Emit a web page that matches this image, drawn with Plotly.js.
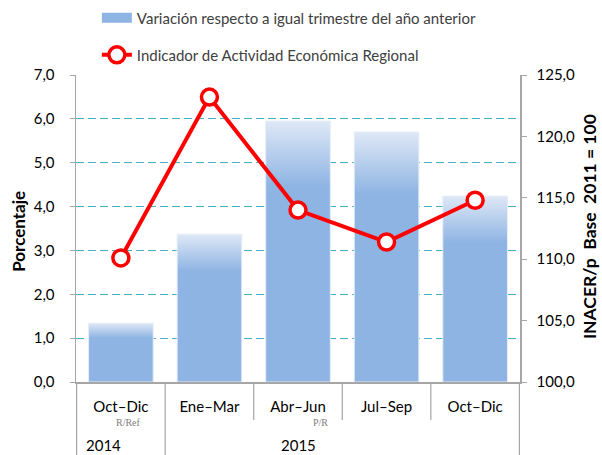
<!DOCTYPE html>
<html><head><meta charset="utf-8">
<script src="https://cdn.plot.ly/plotly-3.0.1.min.js"></script>
<style>body{margin:0;background:#fff}#chart{width:602px;height:455px}</style>
</head><body><div id="chart"></div>
<script>
const years = ["2014", "2015", "2015", "2015", "2015"];
const yearLabels = ["2014", "2015"];
const yearNotes = ["R/Ref", "P/R"];
const quarters = ["Oct–Dic", "Ene–Mar", "Abr–Jun", "Jul–Sep", "Oct–Dic"];
const variacion = [1.34, 3.37, 5.95, 5.70, 4.24];
const inacer = [110.1, 123.2, 114.0, 111.4, 114.8];
const barName = "Variación respecto a igual trimestre del año anterior";
const lineName = "Indicador de Actividad Económica Regional";
const leftTitle = "Porcentaje";
const rightTitle = "INACER/p\u00A0 Base\u00A0 2011 = 100";

// unique category keys built from year + quarter, shown as quarter only
const keys = quarters.map(function(q, i){ return q + " " + years[i]; });

const font = "Lato, 'Noto Sans', sans-serif";
const axisGray = "#A6A6A6";

const traces = [
  {type: "bar", x: keys, y: variacion, name: barName,
   marker: {color: "#8EB4E3", line: {color: "#E6EDF7", width: 1}},
   hoverinfo: "skip", legend: "legend"},
  {type: "scatter", mode: "lines+markers", x: keys, y: inacer, name: lineName,
   yaxis: "y2", line: {color: "#FF0000", width: 4},
   marker: {size: 16, color: "#FFFFFF", line: {color: "#FF0000", width: 3.5}},
   hoverinfo: "skip", legend: "legend2"}
];

// axis decoration: boundary lines below the x axis (category boundaries)
const n = keys.length;
const shapes = [];
for (let b = 0; b <= n; b++) {
  const isYearEdge = (b === 0 || b === n || years[b] !== years[b - 1]);
  shapes.push({type: "line", xref: "x", yref: "paper", x0: b - 0.5, x1: b - 0.5,
               y0: 0, y1: isYearEdge ? -0.245 : -0.124,
               line: {color: axisGray, width: 1.2}});
}

const noteFont = {size: 10, color: "#808080", family: "'Liberation Serif', 'DejaVu Serif', serif"};
const annotations = [
  {text: yearLabels[0], xref: "paper", yref: "paper", x: 0.063, y: -0.205, showarrow: false,
   xanchor: "center", yanchor: "middle", font: {size: 15, color: "#000"}},
  {text: yearNotes[0], xref: "paper", yref: "paper", x: 0.119, y: -0.131, showarrow: false,
   xanchor: "center", yanchor: "middle", font: noteFont},
  {text: yearLabels[1], xref: "paper", yref: "paper", x: 0.5, y: -0.205, showarrow: false,
   xanchor: "center", yanchor: "middle", font: {size: 15, color: "#000"}},
  {text: yearNotes[1], xref: "paper", yref: "paper", x: 0.55, y: -0.131, showarrow: false,
   xanchor: "center", yanchor: "middle", font: noteFont},
  {text: "<b>" + leftTitle + "</b>", xref: "paper", yref: "paper", x: -0.13, y: 0.49,
   textangle: -90, showarrow: false, xanchor: "center", yanchor: "middle",
   font: {size: 17, color: "#000"}},
  {text: "<b>" + rightTitle + "</b>", xref: "paper", yref: "paper", x: 1.158, y: 0.505,
   textangle: -90, showarrow: false, xanchor: "center", yanchor: "middle",
   font: {size: 17.5, color: "#000"}}
];

const layout = {
  width: 602, height: 455,
  margin: {l: 76, r: 82, t: 75, b: 73, autoexpand: false},
  paper_bgcolor: "#fff", plot_bgcolor: "#fff",
  separators: ",.",
  font: {family: font, size: 14, color: "#000"},
  bargap: 0.27,
  showlegend: true,
  legend: {x: 0.047, y: 1.186, xanchor: "left", yanchor: "middle",
           font: {size: 15, color: "#404040"}, bgcolor: "rgba(0,0,0,0)", itemwidth: 30},
  legend2: {x: 0.047, y: 1.065, xanchor: "left", yanchor: "middle",
           font: {size: 15, color: "#404040"}, bgcolor: "rgba(0,0,0,0)", itemwidth: 30},
  xaxis: {type: "category", showline: true, linecolor: axisGray, linewidth: 1.5,
          ticks: "", tickmode: "array", tickvals: keys, ticktext: quarters,
          ticklabelstandoff: 10, automargin: false,
          tickfont: {size: 15, color: "#000"}, showgrid: false, zeroline: false},
  yaxis: {range: [0, 7], dtick: 1, tickformat: ".1f", showline: true, linecolor: axisGray,
          linewidth: 1.5, ticks: "outside", ticklen: 5, tickcolor: axisGray,
          ticklabelstandoff: 12, automargin: false,
          showgrid: true, gridcolor: "#4BACC6", griddash: "8px,4px", gridwidth: 1, zeroline: false,
          tickfont: {size: 15, color: "#000"}},
  yaxis2: {range: [100, 125], dtick: 5, tickformat: ".1f", overlaying: "y", side: "right",
           showline: true, linecolor: axisGray, linewidth: 1.5, ticks: "outside", ticklen: 5,
           ticklabelstandoff: 7, automargin: false,
           tickcolor: axisGray, showgrid: false, zeroline: false,
           tickfont: {size: 15, color: "#000"}},
  shapes: shapes,
  annotations: annotations
};

Plotly.newPlot("chart", traces, layout, {displayModeBar: false, staticPlot: true}).then(function(gd){
  const svg = gd.querySelector("svg.main-svg");
  const ns = "http://www.w3.org/2000/svg";
  let defs = svg.querySelector("defs");
  const grad = document.createElementNS(ns, "linearGradient");
  grad.setAttribute("id", "barGrad");
  grad.setAttribute("x1", "0"); grad.setAttribute("y1", "0");
  grad.setAttribute("x2", "0"); grad.setAttribute("y2", "1");
  [["0", "#DFE8F6"], ["0.25", "#8EB4E3"], ["1", "#8EB4E3"]].forEach(function(s){
    const st = document.createElementNS(ns, "stop");
    st.setAttribute("offset", s[0]); st.setAttribute("stop-color", s[1]);
    grad.appendChild(st);
  });
  defs.appendChild(grad);
  gd.querySelectorAll(".barlayer .point path").forEach(function(p){
    p.style.fill = "url(#barGrad)";
  });
  // widen the bar legend swatch to a flat rectangle
  const lg = gd.querySelector("g.legend");
  if (lg) {
    lg.querySelectorAll(".legendpoints path").forEach(function(p){
      p.setAttribute("d", "M15,5H-15V-5H15Z");
      p.style.fill = "#8EB4E3";
      p.style.stroke = "none";
    });
  }
});
</script></body></html>
